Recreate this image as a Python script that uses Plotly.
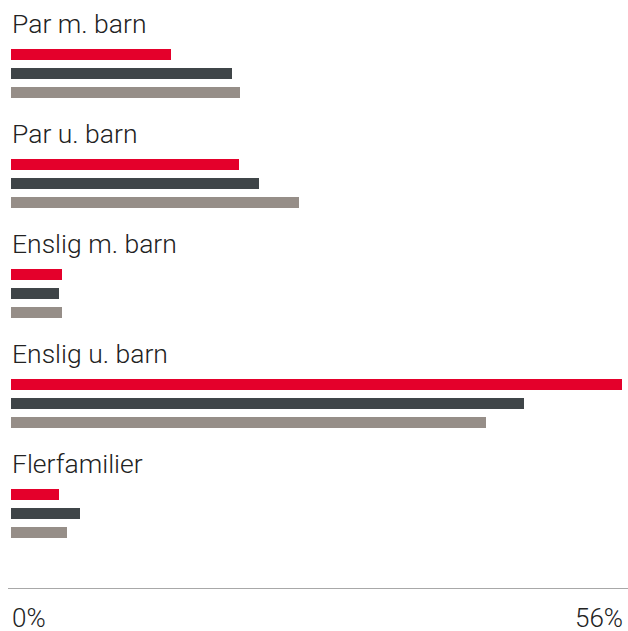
import plotly.graph_objects as go

# Household types and the three series (percent)
categories = ["Par m. barn", "Par u. barn", "Enslig m. barn", "Enslig u. barn", "Flerfamilier"]
series_a = [14.7, 20.9, 4.7, 56.0, 4.4]
series_b = [20.3, 22.7, 4.4, 47.0, 6.3]
series_c = [21.0, 26.4, 4.7, 43.5, 5.1]
axis_min, axis_max = 0, 56
tick_labels = ["0%", "56%"]

colors = ["#E4002B", "#3F4548", "#968E88"]
names = ["A", "B", "C"]

W, H = 628, 631
ML, MR = 11, 6
group_pitch = 110
first_bar = 54.7
bar_pitch = 19
bar_h = 11
label_offset = -31.5

fig = go.Figure()
for s, (vals, col, nm) in enumerate(zip([series_a, series_b, series_c], colors, names)):
    ys = [first_bar + g * group_pitch + s * bar_pitch for g in range(len(categories))]
    fig.add_trace(go.Bar(
        x=vals, y=ys, orientation="h", width=bar_h,
        marker=dict(color=col, line=dict(width=0)),
        name=nm, showlegend=False, hoverinfo="x",
    ))

font = dict(family="Roboto", size=26.5, color="#222222", weight=300)
tick_font = dict(family="Roboto", size=26, color="#222222", weight=300)

annotations = []
for g, cat in enumerate(categories):
    annotations.append(dict(
        text=cat, x=0, xref="paper", xanchor="left", xshift=-1,
        y=first_bar + g * group_pitch + label_offset, yref="y", yanchor="middle",
        showarrow=False, font=font,
    ))

plot_w = W - ML - MR
annotations.append(dict(text=tick_labels[0], x=0, xref="paper", xanchor="left", xshift=-1,
                        y=618, yref="y", yanchor="middle", showarrow=False, font=tick_font))
annotations.append(dict(text=tick_labels[1], x=1, xref="paper", xanchor="right", xshift=3,
                        y=618, yref="y", yanchor="middle", showarrow=False, font=tick_font))

shapes = [dict(type="line", xref="paper", yref="y",
               x0=-3 / plot_w, x1=(W - ML) / plot_w, y0=588.5, y1=588.5,
               line=dict(color="#A8A8A8", width=1))]

fig.update_layout(
    width=W, height=H,
    margin=dict(l=ML, r=MR, t=0, b=0),
    paper_bgcolor="white", plot_bgcolor="white",
    xaxis=dict(range=[axis_min, axis_max], visible=False, fixedrange=True),
    yaxis=dict(range=[H, 0], visible=False, fixedrange=True),
    bargap=0,
    annotations=annotations, shapes=shapes,
)

fig.write_html("out.html")
